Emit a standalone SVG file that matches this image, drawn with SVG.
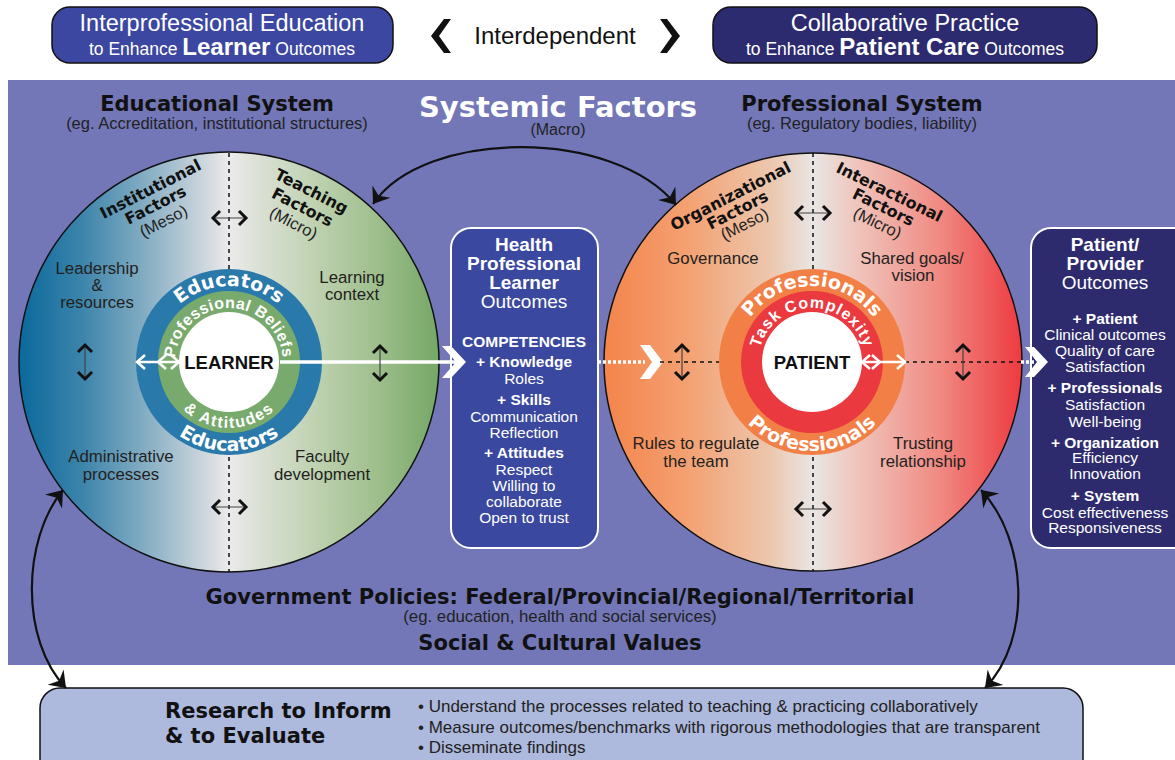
<svg xmlns="http://www.w3.org/2000/svg" width="1175" height="760" viewBox="0 0 1175 760">
<style>
.h{font-family:"DejaVu Sans",sans-serif;font-weight:bold}
.r{font-family:"Liberation Sans",Arial,sans-serif}
.rb{font-family:"Liberation Sans",Arial,sans-serif;font-weight:bold}
.mid{text-anchor:middle}
.lbl{font-family:"Liberation Sans",Arial,sans-serif;font-size:16.8px;fill:#231f20;text-anchor:middle}
.fac{font-family:"DejaVu Sans",sans-serif;font-weight:bold;font-size:16px;fill:#111;text-anchor:middle}
.lvl{font-family:"Liberation Sans",Arial,sans-serif;font-size:16.5px;fill:#222;text-anchor:middle}
.ring{font-family:"DejaVu Sans",sans-serif;font-weight:bold;font-size:19px;fill:#fff}
.ring2{font-family:"Liberation Sans",Arial,sans-serif;font-weight:bold;font-size:16px;fill:#fff}
.core{font-family:"Liberation Sans",Arial,sans-serif;font-weight:bold;font-size:18.5px;fill:#111;text-anchor:middle}
.bt{font-family:"Liberation Sans",Arial,sans-serif;fill:#fff;text-anchor:middle}
.dash{stroke:#111;stroke-width:1.5;stroke-dasharray:4 4;fill:none}
.blk{stroke:#111;stroke-width:3;fill:none;stroke-linejoin:miter}
.thin{stroke:#444;stroke-width:1.2;fill:none}
.wh{stroke:#fff;stroke-width:2.5;fill:none}
.curve{stroke:#111;stroke-width:2.2;fill:none}
</style>
<defs>
<linearGradient id="gEdu" gradientUnits="userSpaceOnUse" x1="19" y1="0" x2="439" y2="0">
<stop offset="0" stop-color="#0a699c"/>
<stop offset="0.15" stop-color="#3c84ab"/>
<stop offset="0.3" stop-color="#84adc3"/>
<stop offset="0.45" stop-color="#d2d9df"/>
<stop offset="0.5" stop-color="#ebebeb"/>
<stop offset="0.56" stop-color="#dde2d8"/>
<stop offset="0.7" stop-color="#c0d2b2"/>
<stop offset="0.85" stop-color="#9fbf8d"/>
<stop offset="1" stop-color="#74a765"/>
</linearGradient>
<linearGradient id="gPro" gradientUnits="userSpaceOnUse" x1="604" y1="0" x2="1022" y2="0">
<stop offset="0" stop-color="#f4844b"/>
<stop offset="0.2" stop-color="#f4a172"/>
<stop offset="0.4" stop-color="#ecc7ae"/>
<stop offset="0.5" stop-color="#e8e6e4"/>
<stop offset="0.6" stop-color="#efc6bd"/>
<stop offset="0.8" stop-color="#f08b83"/>
<stop offset="1" stop-color="#ee3a40"/>
</linearGradient>
<marker id="ah" markerUnits="userSpaceOnUse" markerWidth="26" markerHeight="26" viewBox="-17 -13 19 26" refX="0" refY="0" orient="auto-start-reverse">
<path d="M0,0 L-15,-11 L-10,0 L-15,11 Z" fill="#111"/>
</marker>
<path id="pEduTop" d="M153,362 A76,76 0 0 1 305,362"/>
<path id="pEduBot" d="M140,362 A89,89 0 0 0 318,362"/>
<path id="pBelTop" d="M175,362 A54,54 0 0 1 283,362"/>
<path id="pBelBot" d="M163,362 A66,66 0 0 0 295,362"/>
<path id="pProTop" d="M736,362 A76,76 0 0 1 888,362"/>
<path id="pProBot" d="M723,362 A89,89 0 0 0 901,362"/>
<path id="pTaskTop" d="M758,362 A54,54 0 0 1 866,362"/>
</defs>

<rect x="0" y="0" width="1175" height="760" fill="#fff"/>

<g id="ipe-box">
<rect x="52" y="7" width="341" height="56" rx="18" fill="#3b47a0" stroke="#111" stroke-width="1.5"/>
<text class="bt" x="222" y="31" font-size="23.5">Interprofessional Education</text>
<text class="bt" x="222" y="55"><tspan font-size="17.5">to Enhance </tspan><tspan font-size="24" font-weight="bold">Learner</tspan><tspan font-size="17.5"> Outcomes</tspan></text>
</g>

<g id="interdependent">
<polygon points="451,19 439,36 451,53 444,53 431,36 444,19" fill="#111"/>
<text class="r mid" x="555" y="44" font-size="24" fill="#111">Interdependent</text>
<polygon points="660,19 672,36 660,53 667,53 680,36 667,19" fill="#111"/>
</g>

<g id="cp-box">
<rect x="713" y="7" width="384" height="56" rx="18" fill="#2d2b70" stroke="#111" stroke-width="1.5"/>
<text class="bt" x="905" y="31" font-size="23.5">Collaborative Practice</text>
<text class="bt" x="905" y="55"><tspan font-size="17.5">to Enhance </tspan><tspan font-size="24" font-weight="bold">Patient Care</tspan><tspan font-size="17.5"> Outcomes</tspan></text>
</g>

<g id="systemic-factors">
<rect x="8" y="80" width="1167" height="585" fill="#7377b8"/>
<text class="h mid" x="217" y="111" font-size="21" fill="#111">Educational System</text>
<text class="r mid" x="217" y="129" font-size="16.5" fill="#222">(eg. Accreditation, institutional structures)</text>
<text class="h mid" x="558" y="117" font-size="29" fill="#fff">Systemic Factors</text>
<text class="r mid" x="558" y="135" font-size="16" fill="#222">(Macro)</text>
<text class="h mid" x="862" y="111" font-size="21" fill="#111">Professional System</text>
<text class="r mid" x="862" y="129" font-size="16.5" fill="#222">(eg. Regulatory bodies, liability)</text>
<text class="h mid" x="560" y="604" font-size="21" fill="#111">Government Policies: Federal/Provincial/Regional/Territorial</text>
<text class="r mid" x="560" y="622" font-size="16.8" fill="#222">(eg. education, health and social services)</text>
<text class="h mid" x="560" y="650" font-size="21" fill="#111">Social &amp; Cultural Values</text>
</g>

<g id="educational-circle">
<circle cx="229" cy="362" r="210" fill="url(#gEdu)" stroke="#111" stroke-width="1.5"/>
<line class="dash" x1="229" y1="153" x2="229" y2="572"/>
<text class="fac" transform="translate(153,194) rotate(-27)">Institutional</text>
<text class="fac" transform="translate(158,210) rotate(-27)">Factors</text>
<text class="lvl" transform="translate(166,226) rotate(-27)">(Meso)</text>
<text class="fac" transform="translate(309,196) rotate(27)">Teaching</text>
<text class="fac" transform="translate(300,212) rotate(27)">Factors</text>
<text class="lvl" transform="translate(291,228) rotate(27)">(Micro)</text>
<text class="lbl" x="97" y="274">Leadership</text>
<text class="lbl" x="97" y="291">&amp;</text>
<text class="lbl" x="97" y="308">resources</text>
<text class="lbl" x="352" y="283">Learning</text>
<text class="lbl" x="352" y="300">context</text>
<text class="lbl" x="121" y="462">Administrative</text>
<text class="lbl" x="121" y="480">processes</text>
<text class="lbl" x="322" y="462">Faculty</text>
<text class="lbl" x="322" y="480">development</text>
<circle cx="229" cy="362" r="93" fill="#2979aa"/>
<circle cx="229" cy="362" r="71" fill="#79aa6d"/>
<circle cx="229" cy="362" r="50" fill="#fff"/>
<text class="ring"><textPath href="#pEduTop" startOffset="50%" text-anchor="middle">Educators</textPath></text>
<text class="ring"><textPath href="#pEduBot" startOffset="50%" text-anchor="middle">Educators</textPath></text>
<text class="ring2" letter-spacing="0.4"><textPath href="#pBelTop" startOffset="50%" text-anchor="middle">Professional Beliefs</textPath></text>
<text class="ring2" letter-spacing="1.5"><textPath href="#pBelBot" startOffset="50%" text-anchor="middle">&amp; Attitudes</textPath></text>
<text class="core" x="229" y="369">LEARNER</text>
</g>

<g id="professional-circle">
<circle cx="813" cy="362" r="209" fill="url(#gPro)" stroke="#111" stroke-width="1.5"/>
<line class="dash" x1="813" y1="153" x2="813" y2="571"/>
<text class="fac" transform="translate(733,201) rotate(-27)">Organizational</text>
<text class="fac" transform="translate(740,215) rotate(-27)">Factors</text>
<text class="lvl" transform="translate(747,229) rotate(-27)">(Meso)</text>
<text class="fac" transform="translate(887,197) rotate(26)">Interactional</text>
<text class="fac" transform="translate(881,212) rotate(26)">Factors</text>
<text class="lvl" transform="translate(875,228) rotate(26)">(Micro)</text>
<text class="lbl" x="713" y="264">Governance</text>
<text class="lbl" x="912" y="264">Shared goals/</text>
<text class="lbl" x="913" y="281">vision</text>
<text class="lbl" x="696" y="449">Rules to regulate</text>
<text class="lbl" x="696" y="467">the team</text>
<text class="lbl" x="923" y="449">Trusting</text>
<text class="lbl" x="923" y="467">relationship</text>
<circle cx="812" cy="362" r="93" fill="#f27f45"/>
<circle cx="812" cy="362" r="71" fill="#ea393f"/>
<circle cx="812" cy="362" r="50" fill="#fff"/>
<text class="ring" font-size="18.5"><textPath href="#pProTop" startOffset="50%" text-anchor="middle">Professionals</textPath></text>
<text class="ring" font-size="18.5"><textPath href="#pProBot" startOffset="50%" text-anchor="middle">Professionals</textPath></text>
<text class="ring2" font-size="16.5" letter-spacing="1"><textPath href="#pTaskTop" startOffset="50%" text-anchor="middle">Task Complexity</textPath></text>
<text class="core" x="812" y="369">PATIENT</text>
</g>

<g id="hp-learner-outcomes">
<rect x="451" y="228" width="147" height="320" rx="20" fill="#3a48a0" stroke="#fff" stroke-width="2"/>
<text class="bt rb" x="524" y="251" font-size="19">Health</text>
<text class="bt rb" x="524" y="270" font-size="19">Professional</text>
<text class="bt rb" x="524" y="289" font-size="19">Learner</text>
<text class="bt" x="524" y="308" font-size="19">Outcomes</text>
<text class="bt rb" x="524" y="347" font-size="15.5">COMPETENCIES</text>
<text class="bt rb" x="524" y="367" font-size="15.5">+ Knowledge</text>
<text class="bt" x="524" y="384" font-size="15.5">Roles</text>
<text class="bt rb" x="524" y="405" font-size="15.5">+ Skills</text>
<text class="bt" x="524" y="422" font-size="15.5">Communication</text>
<text class="bt" x="524" y="438" font-size="15.5">Reflection</text>
<text class="bt rb" x="524" y="458" font-size="15.5">+ Attitudes</text>
<text class="bt" x="524" y="475" font-size="15.5">Respect</text>
<text class="bt" x="524" y="491" font-size="15.5">Willing to</text>
<text class="bt" x="524" y="507" font-size="15.5">collaborate</text>
<text class="bt" x="524" y="523" font-size="15.5">Open to trust</text>
</g>

<g id="patient-provider-outcomes">
<rect x="1031" y="228" width="170" height="320" rx="20" fill="#2d2b6e" stroke="#fff" stroke-width="2"/>
<text class="bt rb" x="1105" y="251" font-size="19">Patient/</text>
<text class="bt rb" x="1105" y="270" font-size="19">Provider</text>
<text class="bt" x="1105" y="289" font-size="19">Outcomes</text>
<text class="bt rb" x="1105" y="324" font-size="15.5">+ Patient</text>
<text class="bt" x="1105" y="340" font-size="15.5">Clinical outcomes</text>
<text class="bt" x="1105" y="356" font-size="15.5">Quality of care</text>
<text class="bt" x="1105" y="372" font-size="15.5">Satisfaction</text>
<text class="bt rb" x="1105" y="393" font-size="15.5">+ Professionals</text>
<text class="bt" x="1105" y="410" font-size="15.5">Satisfaction</text>
<text class="bt" x="1105" y="427" font-size="15.5">Well-being</text>
<text class="bt rb" x="1105" y="448" font-size="15.5">+ Organization</text>
<text class="bt" x="1105" y="463" font-size="15.5">Efficiency</text>
<text class="bt" x="1105" y="479" font-size="15.5">Innovation</text>
<text class="bt rb" x="1105" y="501" font-size="15.5">+ System</text>
<text class="bt" x="1105" y="518" font-size="15.5">Cost effectiveness</text>
<text class="bt" x="1105" y="533" font-size="15.5">Responsiveness</text>
</g>

<g id="research-box">
<rect x="40" y="688" width="1043" height="90" rx="20" fill="#adb9dd" stroke="#111" stroke-width="1.5"/>
<text class="h" x="165" y="718" font-size="21" fill="#111">Research to Inform</text>
<text class="h" x="165" y="743" font-size="21" fill="#111">&amp; to Evaluate</text>
<text class="r" x="418" y="712" font-size="17" fill="#222">• Understand the processes related to teaching &amp; practicing collaboratively</text>
<text class="r" x="418" y="733" font-size="17" fill="#222">• Measure outcomes/benchmarks with rigorous methodologies that are transparent</text>
<text class="r" x="418" y="753" font-size="17" fill="#222">• Disseminate findings</text>
</g>

<g id="connectors">
<path class="curve" d="M373,204 C425,128 615,128 676,205" marker-start="url(#ah)" marker-end="url(#ah)"/>
<path class="curve" d="M63,490 C22,540 20,640 66,688" marker-start="url(#ah)" marker-end="url(#ah)"/>
<path class="curve" d="M981,490 C1028,540 1032,640 985,688" marker-start="url(#ah)" marker-end="url(#ah)"/>
<line x1="280" y1="362" x2="458" y2="362" stroke="#fff" stroke-width="3.5"/>
<polygon points="442,346 451,346 466,362 451,378 442,378 456,362" fill="#fff"/>
<line x1="598" y1="362" x2="645" y2="362" stroke="#fff" stroke-width="3.5" stroke-dasharray="3 2"/>
<polygon points="640,345 650,345 663,362 650,379 640,379 652,362" fill="#fff"/>
<line class="dash" x1="660" y1="362" x2="719" y2="362"/>
<line class="dash" x1="905" y1="362" x2="1021" y2="362"/>
<line x1="1021" y1="362" x2="1034" y2="362" stroke="#fff" stroke-width="3.5" stroke-dasharray="3 2"/>
<polygon points="1025,347 1034,347 1048,362 1034,377 1025,377 1037,362" fill="#fff"/>
<line class="wh" x1="137" y1="362" x2="179" y2="362"/>
<polyline class="wh" points="145,355 137,362 145,369"/>
<polyline class="wh" points="166,355 158,362 166,369"/>
<polyline class="wh" points="171,355 179,362 171,369"/>
<line class="wh" x1="862" y1="362" x2="905" y2="362"/>
<polyline class="wh" points="870,355 862,362 870,369"/>
<polyline class="wh" points="872,355 880,362 872,369"/>
<polyline class="wh" points="897,355 905,362 897,369"/>
<g id="v-arrows">
<line class="thin" x1="85" y1="345" x2="85" y2="379"/>
<polyline class="blk" points="78,352 85,345 92,352"/>
<polyline class="blk" points="78,372 85,379 92,372"/>
<line class="thin" x1="380" y1="346" x2="380" y2="380"/>
<polyline class="blk" points="373,353 380,346 387,353"/>
<polyline class="blk" points="373,373 380,380 387,373"/>
<line class="thin" x1="682" y1="345" x2="682" y2="379"/>
<polyline class="blk" points="675,352 682,345 689,352"/>
<polyline class="blk" points="675,372 682,379 689,372"/>
<line class="thin" x1="963" y1="345" x2="963" y2="379"/>
<polyline class="blk" points="956,352 963,345 970,352"/>
<polyline class="blk" points="956,372 963,379 970,372"/>
</g>
<g id="h-arrows">
<line class="thin" x1="213" y1="218" x2="246" y2="218"/>
<polyline class="blk" points="220,211 213,218 220,225"/>
<polyline class="blk" points="239,211 246,218 239,225"/>
<line class="thin" x1="213" y1="507" x2="246" y2="507"/>
<polyline class="blk" points="220,500 213,507 220,514"/>
<polyline class="blk" points="239,500 246,507 239,514"/>
<line class="thin" x1="796" y1="213" x2="830" y2="213"/>
<polyline class="blk" points="803,206 796,213 803,220"/>
<polyline class="blk" points="823,206 830,213 823,220"/>
<line class="thin" x1="796" y1="509" x2="830" y2="509"/>
<polyline class="blk" points="803,502 796,509 803,516"/>
<polyline class="blk" points="823,502 830,509 823,516"/>
</g>
</g>
</svg>
